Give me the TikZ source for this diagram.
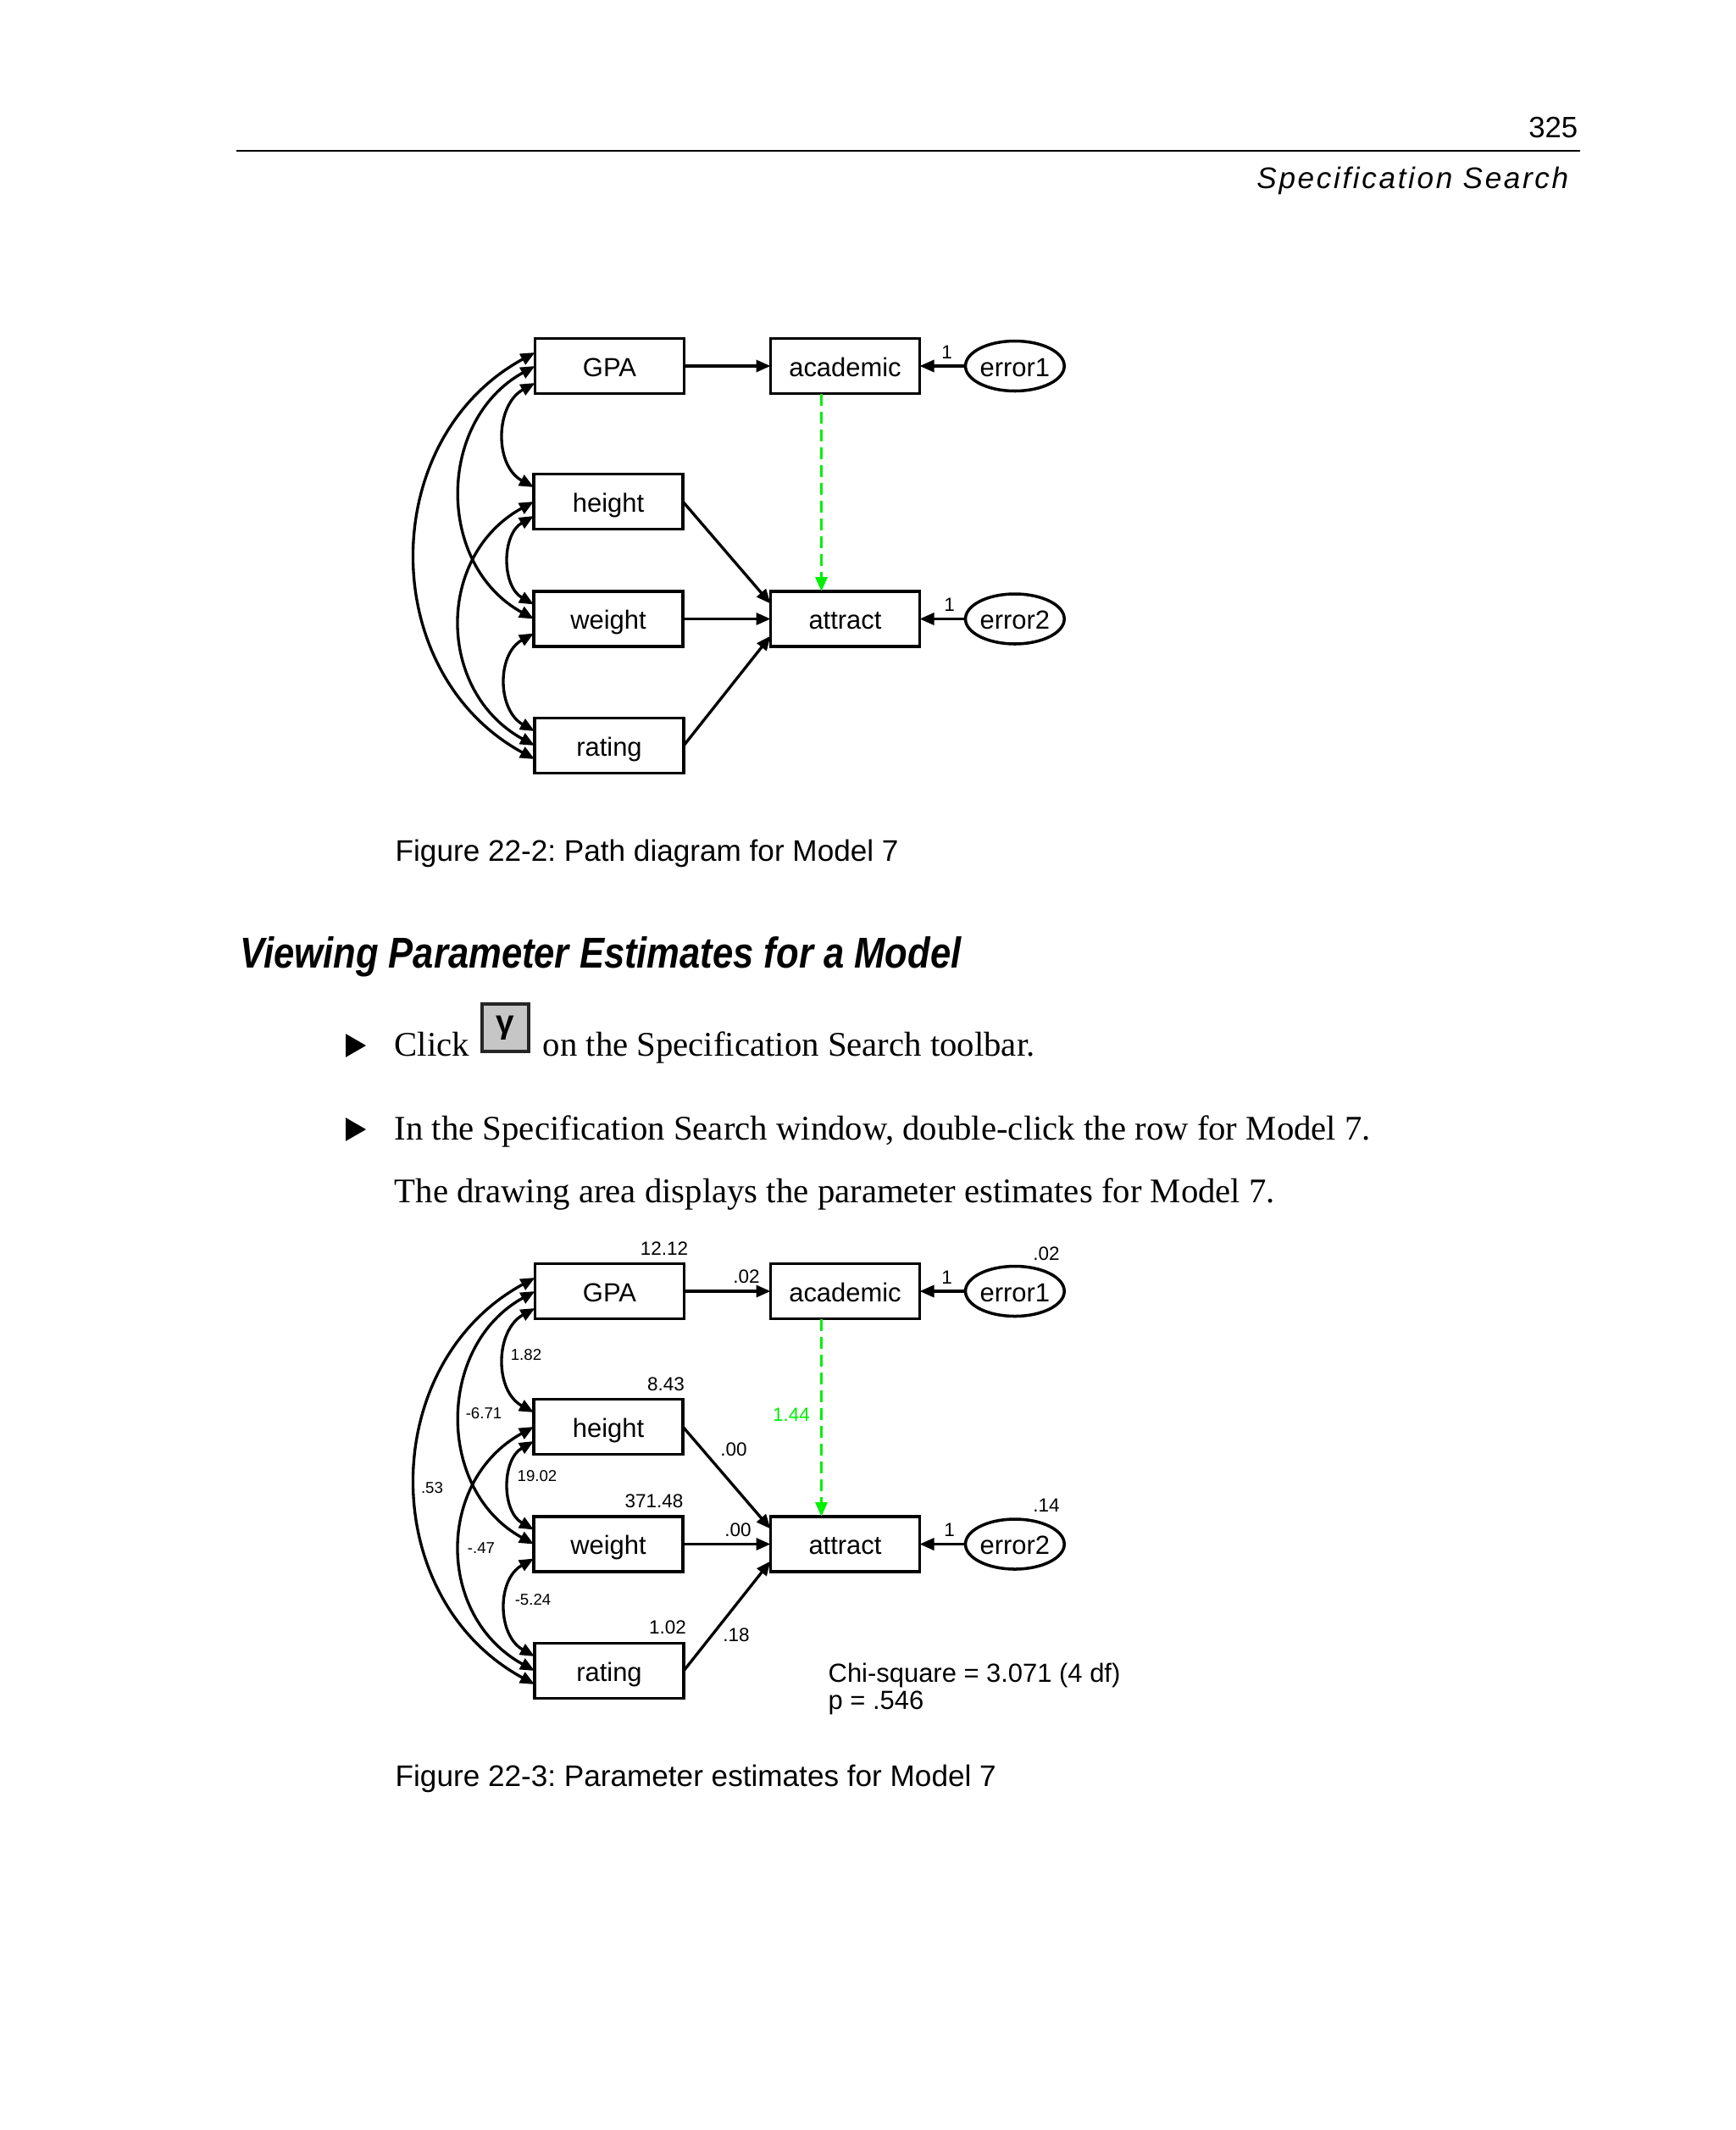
\documentclass[tikz,border=0pt]{standalone}
\usepackage{fontspec}
\usepackage{xcolor}
\usetikzlibrary{shapes.geometric, arrows.meta, positioning}
\setmainfont{Liberation Serif}
\setsansfont{Liberation Sans}
\newfontfamily\headfont[FakeStretch=0.855]{Liberation Sans}
\newfontfamily\runfont[LetterSpace=7.5]{Liberation Sans}
\definecolor{pathgreen}{RGB}{0,240,0}
\definecolor{icongray}{RGB}{198,198,198}

\begin{document}
\frenchspacing
\begin{tikzpicture}[
    varbox/.style={draw, minimum width=1.76cm, minimum height=.65cm, inner sep=0pt, outer sep=0pt,
                text height=.24cm, text depth=0pt, font=\fontsize{8.8}{10}\sffamily, line width=1pt},
    errnode/.style={draw, ellipse, minimum width=1.14cm, minimum height=.59cm, inner sep=0pt, outer sep=0pt,
                text height=.24cm, text depth=0pt, font=\fontsize{8.8}{10}\sffamily, line width=1pt},
    arr/.style={-{Triangle[length=.17cm, width=.14cm]}, line width=.95pt},
    cov/.style={{Triangle[length=.17cm, width=.14cm]}-{Triangle[length=.17cm, width=.14cm]}, line width=.95pt},
    greenarr/.style={arr, color=pathgreen, dash pattern=on 4pt off 2pt},
    est/.style={font=\fontsize{6.4}{7}\sffamily, inner sep=0pt},
    corr/.style={font=\fontsize{5.3}{6}\sffamily, inner sep=0pt},
    caption/.style={anchor=base west, font=\fontsize{10}{12}\sffamily, inner sep=0pt},
    bodytext/.style={anchor=base west, font=\fontsize{11.6}{14}\rmfamily, inner sep=0pt},
    bullet/.style={fill, isosceles triangle, isosceles triangle apex angle=60, minimum height=.24cm, inner sep=0pt},
]
\useasboundingbox (0,0) rectangle (20.48,-25.14);

% page head
\node[anchor=base east, font=\fontsize{9.9}{12}\sffamily, inner sep=0pt] (pagenum) at (18.63,-1.62) {325};
\coordinate (ruleleft) at (2.79,-1.78);
\coordinate (ruleright) at (18.65,-1.78);
\draw[line width=.5pt] (ruleleft) -- (ruleright);
\node[anchor=base east, font=\fontsize{10}{12}\runfont\itshape, inner sep=0pt] (runhead) at (18.52,-2.22) {Specification Search};

% first diagram
\node[varbox] (gpa) at (7.195,-4.32) {GPA};
\node[varbox, right=1.02cm of gpa] (academic) {academic};
\node[errnode, right=.54cm of academic] (error1) {error1};
\node[varbox, below=.95cm of gpa, xshift=-.015cm] (height) {height};
\node[varbox, below=.735cm of height] (weight) {weight};
\node[varbox, below=.845cm of weight, xshift=.01cm] (rating) {rating};
\node[varbox, right=1.035cm of weight] (attract) {attract};
\node[errnode, right=.54cm of attract] (error2) {error2};
\node[est, above left=.08cm and .15cm of error1.west] (one1) {1};
\node[est, above left=.08cm and .12cm of error2.west] (one2) {1};

\draw[arr] (gpa) -- (academic);
\draw[arr] (error1) -- (academic);
\draw[arr] (error2) -- (attract);
\draw[greenarr] ([xshift=-.28cm]academic.south) -- ([xshift=-.28cm]attract.north);
\draw[arr] (height.east) -- ([yshift=.18cm]attract.west);
\draw[arr] (weight) -- (attract);
\draw[arr] (rating.east) -- ([yshift=-.2cm]attract.west);
\draw[cov] ([yshift=-.2cm]gpa.west) .. controls +(-.47,-.26) and +(-.47,.26) .. ([yshift=.17cm]height.west);
\draw[cov] (gpa.west) .. controls +(-1.16,-.64) and +(-1.16,.64) .. (weight.west);
\draw[cov] ([yshift=.16cm]gpa.west) .. controls +(-1.87,-1.02) and +(-1.87,1.02) .. ([yshift=-.16cm]rating.west);
\draw[cov] ([yshift=-.17cm]height.west) .. controls +(-.38,-.22) and +(-.38,.22) .. ([yshift=.17cm]weight.west);
\draw[cov] (height.west) .. controls +(-1.16,-.64) and +(-1.16,.64) .. (rating.west);
\draw[cov] ([yshift=-.17cm]weight.west) .. controls +(-.44,-.25) and +(-.44,.25) .. ([yshift=.17cm]rating.west);

\node[caption] (fig2) at (4.66,-10.16) {Figure 22-2: Path diagram for Model 7};

% section text
\node[anchor=base west, font=\fontsize{14.5}{16}\headfont\bfseries\itshape, inner sep=0pt] (section) at (2.83,-11.42) {Viewing Parameter Estimates for a Model};
\node[bullet] (bullet1) at (4.16,-12.34) {};
\node[bodytext] (click) at (4.65,-12.46) {Click};
\node[draw=black!85, fill=icongray, line width=1.1pt, minimum width=.55cm, minimum height=.56cm, inner sep=0pt, font=\fontsize{11}{12}\sffamily\bfseries] (icon) at (5.965,-12.13) {γ};
\node[bodytext] (clicktail) at (6.40,-12.46) {on the Specification Search toolbar.};
\node[bullet] (bullet2) at (4.16,-13.33) {};
\node[bodytext] (dblclick) at (4.65,-13.45) {In the Specification Search window, double-click the row for Model 7.};
\node[bodytext] (displays) at (4.65,-14.19) {The drawing area displays the parameter estimates for Model 7.};

% second diagram
\node[varbox] (gpab) at (7.195,-15.24) {GPA};
\node[varbox, right=1.02cm of gpab] (academicb) {academic};
\node[errnode, right=.54cm of academicb] (error1b) {error1};
\node[varbox, below=.95cm of gpab, xshift=-.015cm] (heightb) {height};
\node[varbox, below=.735cm of heightb] (weightb) {weight};
\node[varbox, below=.845cm of weightb, xshift=.01cm] (ratingb) {rating};
\node[varbox, right=1.035cm of weightb] (attractb) {attract};
\node[errnode, right=.54cm of attractb] (error2b) {error2};
\node[est, above left=.08cm and .15cm of error1b.west] (one1b) {1};
\node[est, above left=.08cm and .12cm of error2b.west] (one2b) {1};

\draw[arr] (gpab) -- (academicb);
\draw[arr] (error1b) -- (academicb);
\draw[arr] (error2b) -- (attractb);
\draw[greenarr] ([xshift=-.28cm]academicb.south) -- ([xshift=-.28cm]attractb.north);
\draw[arr] (heightb.east) -- ([yshift=.18cm]attractb.west);
\draw[arr] (weightb) -- (attractb);
\draw[arr] (ratingb.east) -- ([yshift=-.2cm]attractb.west);
\draw[cov] ([yshift=-.2cm]gpab.west) .. controls +(-.47,-.26) and +(-.47,.26) .. ([yshift=.17cm]heightb.west);
\draw[cov] (gpab.west) .. controls +(-1.16,-.64) and +(-1.16,.64) .. (weightb.west);
\draw[cov] ([yshift=.16cm]gpab.west) .. controls +(-1.87,-1.02) and +(-1.87,1.02) .. ([yshift=-.16cm]ratingb.west);
\draw[cov] ([yshift=-.17cm]heightb.west) .. controls +(-.38,-.22) and +(-.38,.22) .. ([yshift=.17cm]weightb.west);
\draw[cov] (heightb.west) .. controls +(-1.16,-.64) and +(-1.16,.64) .. (ratingb.west);
\draw[cov] ([yshift=-.17cm]weightb.west) .. controls +(-.44,-.25) and +(-.44,.25) .. ([yshift=.17cm]ratingb.west);

% estimates
\node[est] (vgpa) at (7.84,-14.74) {12.12};
\node[est] (vheight) at (7.86,-16.34) {8.43};
\node[est] (vweight) at (7.72,-17.72) {371.48};
\node[est] (vrating) at (7.88,-19.21) {1.02};
\node[est] (verr1) at (12.35,-14.80) {.02};
\node[est] (verr2) at (12.35,-17.77) {.14};
\node[est] (pgpa) at (8.81,-15.07) {.02};
\node[est] (pheight) at (8.66,-17.11) {.00};
\node[est] (pweight) at (8.71,-18.06) {.00};
\node[est] (prating) at (8.69,-19.30) {.18};
\node[est, color=pathgreen] (pacad) at (9.34,-16.70) {1.44};
\node[corr] (c12) at (6.21,-15.99) {1.82};
\node[corr] (c13) at (5.71,-16.68) {-6.71};
\node[corr] (c14) at (5.10,-17.56) {.53};
\node[corr] (c23) at (6.34,-17.42) {19.02};
\node[corr] (c24) at (5.68,-18.27) {-.47};
\node[corr] (c34) at (6.29,-18.88) {-5.24};
\node[anchor=north west, align=left, inner sep=0pt, font=\fontsize{8.8}{9.1}\sffamily] (chi) at (9.77,-19.62) {Chi-square = 3.071 (4 df)\\p = .546};

\node[caption] (fig3) at (4.66,-21.08) {Figure 22-3: Parameter estimates for Model 7};
\end{tikzpicture}
\end{document}
